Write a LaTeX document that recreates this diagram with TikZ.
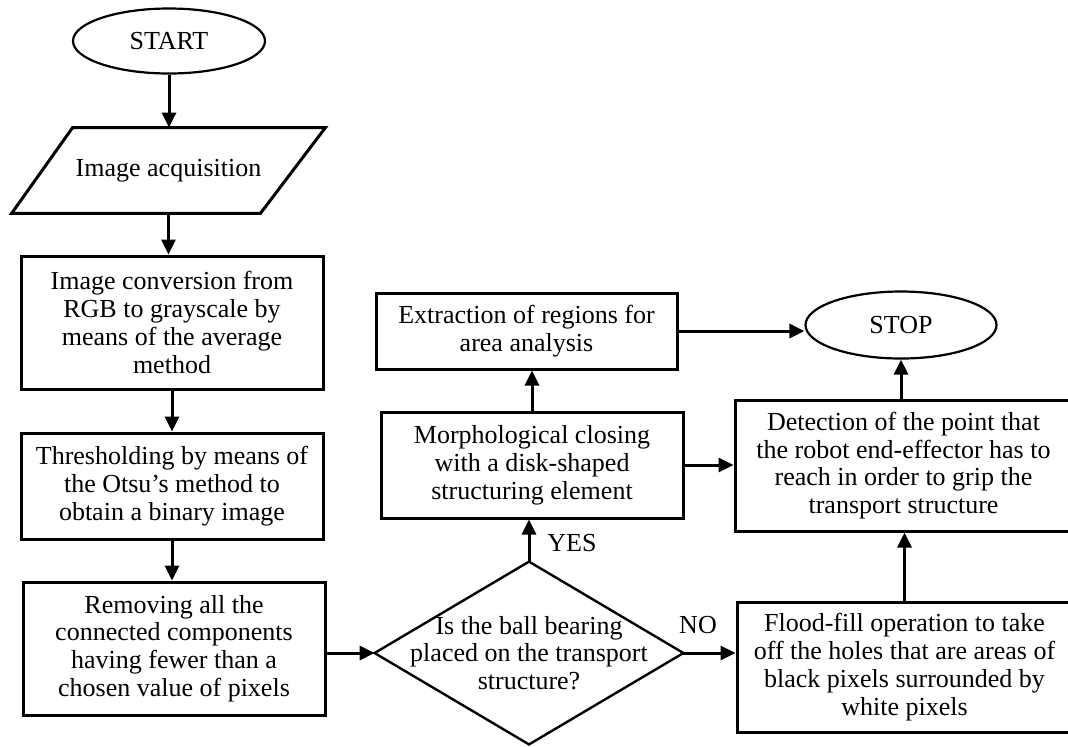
\documentclass[tikz,border=0pt]{standalone}
\usepackage{fontspec}
\setmainfont{Liberation Serif}
\usetikzlibrary{arrows.meta,shapes.geometric}
\begin{document}
\begin{tikzpicture}[x=0.5pt,y=-0.5pt,
  font=\fontsize{13}{13.9}\selectfont,
  procbox/.style={draw, line width=1.5pt, rectangle, align=center, inner sep=0pt},
  termbox/.style={draw, line width=1.1pt, ellipse, inner sep=0pt},
  decbox/.style={inner sep=0pt, align=center},
  conn/.style={line width=1.5pt, -{Triangle[length=7.5pt,width=7pt]}},
  lbl/.style={inner sep=0pt}]
\useasboundingbox (0,0) rectangle (1068,746);
\node[termbox, minimum width=96pt, minimum height=32.5pt] (start) at (169,41) {START};
\node[inner sep=0pt, minimum width=156.5pt, minimum height=42.5pt] (acq) at (168.5,170.5) {Image acquisition};
\draw[line width=1.5pt] ([xshift=30.5pt]acq.north west) -- (acq.north east) -- ([xshift=-32.5pt]acq.south east) -- (acq.south west) -- cycle;
\node[procbox, minimum width=151pt, minimum height=66.5pt] (conv) at (172,322.5) {Image conversion from\\RGB to grayscale by\\means of the average\\method};
\node[procbox, minimum width=151pt, minimum height=53pt] (thr) at (172,486) {Thresholding by means of\\the Otsu's method to\\obtain a binary image};
\node[procbox, minimum width=151pt, minimum height=66.5pt] (rem) at (174,648.5) {Removing all the\\connected components\\having fewer than a\\chosen value of pixels};
\node[decbox, minimum width=154pt, minimum height=91pt] (dec) at (529,653) {Is the ball bearing\\placed on the transport\\structure?};
\draw[line width=1.2pt] (dec.west) -- (dec.north) -- (dec.east) -- (dec.south) -- cycle;
\node[procbox, minimum width=151pt, minimum height=53pt] (morph) at (532,465) {Morphological closing\\with a disk-shaped\\structuring element};
\node[procbox, minimum width=150.5pt, minimum height=38pt] (ext) at (526.5,331) {Extraction of regions for\\area analysis};
\node[termbox, minimum width=95.5pt, minimum height=33.5pt] (stop) at (901,325) {STOP};
\node[procbox, minimum width=168.5pt, minimum height=65.5pt] (det) at (903.5,465.5) {Detection of the point that\\the robot end-effector has to\\reach in order to grip the\\transport structure};
\node[procbox, minimum width=167.5pt, minimum height=65pt] (flood) at (904.5,667) {Flood-fill operation to take\\off the holes that are areas of\\black pixels surrounded by\\white pixels};
\node[lbl] (yes) at (572,543) {YES};
\node[lbl] (no) at (698,625) {NO};
\draw[conn] (start.south) -- (start.south |- acq.north);
\draw[conn] (acq.south) -- (acq.south |- conv.north);
\draw[conn] (conv.south) -- (conv.south |- thr.north);
\draw[conn] (thr.south) -- (thr.south |- rem.north);
\draw[conn] (rem.east |- dec.west) -- (dec.west);
\draw[conn] (dec.north) -- (dec.north |- morph.south);
\draw[conn] (morph.north) -- (morph.north |- ext.south);
\draw[conn] (ext.east) -- (ext.east -| stop.west);
\draw[conn] (morph.east) -- (morph.east -| det.west);
\draw[conn] (dec.east) -- (dec.east -| flood.west);
\draw[conn] (flood.north) -- (flood.north |- det.south);
\draw[conn] (det.north -| stop.south) -- (stop.south);
\end{tikzpicture}
\end{document}
